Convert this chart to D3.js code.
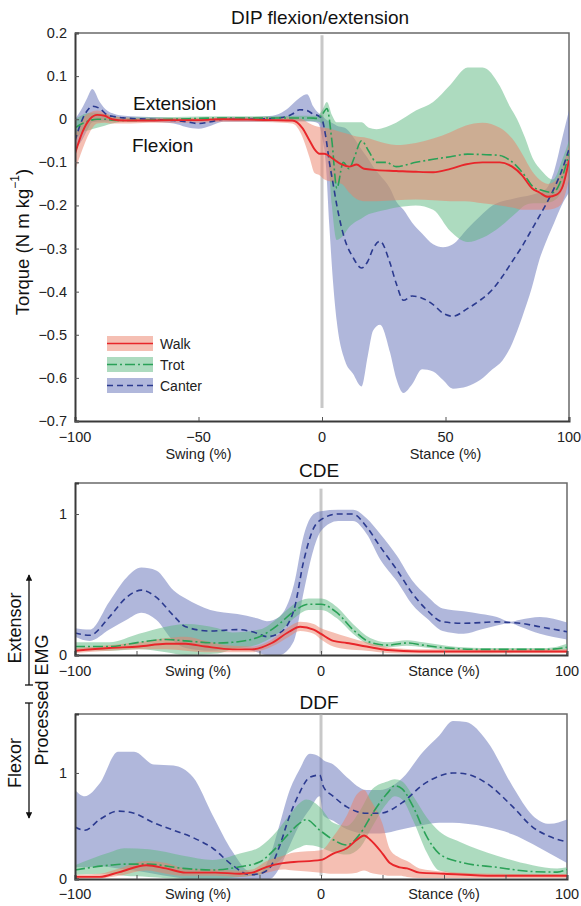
<!DOCTYPE html>
<html>
<head>
<meta charset="utf-8">
<script src="https://cdn.jsdelivr.net/npm/d3@7"></script>
<style>
  body { margin: 0; background: #fff; }
  svg { font-family: "Liberation Sans", Arial, sans-serif; }
</style>
</head>
<body>
<svg id="chart" width="581" height="906"></svg>
<script>
// ---- DIP flexion/extension torque (x = % of swing/stance) ----
var dipWalkX    = [-100, -97, -94, -91, -88, -85, -80, -70, -60, -50, -40, -30, -20, -12, -8, -5, -3, -1, 1, 4, 8, 11, 14, 17, 22, 30, 38, 45, 52, 58, 65, 72, 77, 81, 85, 88, 91.5, 95, 97.5, 100];
var dipWalkMean = [-0.08, -0.03, 0.0, 0.01, 0.008, 0.0, -0.003, -0.003, -0.002, -0.002, 0.0, -0.001, -0.002, -0.003, -0.02, -0.05, -0.07, -0.08, -0.08, -0.09, -0.105, -0.11, -0.105, -0.115, -0.118, -0.12, -0.122, -0.123, -0.115, -0.105, -0.1, -0.1, -0.11, -0.13, -0.16, -0.17, -0.18, -0.175, -0.155, -0.095];
var dipWalkLo   = [-0.12, -0.07, -0.03, -0.01, -0.008, -0.01, -0.01, -0.008, -0.008, -0.008, -0.006, -0.006, -0.007, -0.01, -0.04, -0.09, -0.125, -0.13, -0.14, -0.145, -0.15, -0.17, -0.185, -0.19, -0.19, -0.188, -0.186, -0.188, -0.19, -0.19, -0.195, -0.2, -0.205, -0.21, -0.21, -0.21, -0.21, -0.205, -0.19, -0.14];
var dipWalkHi   = [-0.04, 0.0, 0.015, 0.02, 0.015, 0.008, 0.004, 0.002, 0.003, 0.003, 0.004, 0.004, 0.004, 0.004, 0.0, -0.01, -0.015, -0.018, -0.02, -0.023, -0.03, -0.035, -0.04, -0.042, -0.05, -0.06, -0.055, -0.045, -0.03, -0.015, -0.008, -0.02, -0.045, -0.08, -0.12, -0.14, -0.15, -0.14, -0.11, -0.06];

var dipTrotX    = [-100, -97, -94, -91, -88, -85, -80, -60, -40, -20, -10, -5, -2, 0, 2, 4, 6, 8.6, 11, 13, 16, 19, 22, 26, 30, 38, 45, 52, 59, 65, 72, 76, 79, 82, 85.5, 89, 93.5, 97.5, 100];
var dipTrotMean = [-0.02, -0.01, -0.003, 0.0, 0.0, -0.002, -0.003, 0.0, 0.003, 0.003, 0.003, 0.003, 0.002, 0.01, 0.025, -0.05, -0.16, -0.1, -0.115, -0.09, -0.05, -0.075, -0.1, -0.1, -0.11, -0.1, -0.093, -0.087, -0.081, -0.082, -0.084, -0.095, -0.11, -0.13, -0.157, -0.165, -0.17, -0.13, -0.08];
var dipTrotLo   = [-0.05, -0.03, -0.025, -0.02, -0.015, -0.01, -0.006, -0.004, -0.002, -0.002, -0.003, -0.004, -0.005, -0.01, -0.05, -0.2, -0.28, -0.27, -0.25, -0.24, -0.23, -0.22, -0.215, -0.21, -0.205, -0.2, -0.21, -0.26, -0.285, -0.275, -0.25, -0.23, -0.215, -0.2, -0.195, -0.195, -0.19, -0.16, -0.11];
var dipTrotHi   = [0.0, 0.01, 0.015, 0.015, 0.012, 0.008, 0.004, 0.005, 0.007, 0.007, 0.008, 0.008, 0.008, 0.02, 0.04, 0.01, -0.007, -0.007, -0.007, -0.007, -0.007, -0.02, -0.023, -0.018, -0.008, 0.02, 0.04, 0.08, 0.12, 0.12, 0.077, 0.03, 0.0, -0.04, -0.093, -0.12, -0.14, -0.09, -0.05];

var dipCanterX    = [-100, -97, -95, -93, -90, -87, -84, -80, -70, -60, -55, -50, -45, -40, -30, -20, -15, -12, -9, -6, -3.6, -1.5, 0, 1.5, 3, 4.5, 6, 9.3, 12.5, 16, 18.5, 20.7, 23.5, 27.5, 30, 33, 36.5, 40.5, 45, 49, 53, 58.7, 64, 69, 73, 77, 81, 85, 88, 91, 94, 97, 100];
var dipCanterMean = [-0.05, 0.0, 0.02, 0.03, 0.025, 0.01, 0.006, 0.003, 0.0, -0.003, -0.006, -0.01, -0.006, 0.0, 0.0, 0.002, 0.005, 0.012, 0.022, 0.02, 0.012, 0.008, 0.0, -0.04, -0.1, -0.15, -0.2, -0.28, -0.32, -0.345, -0.33, -0.3, -0.283, -0.333, -0.38, -0.42, -0.41, -0.415, -0.43, -0.45, -0.457, -0.44, -0.42, -0.395, -0.365, -0.33, -0.295, -0.255, -0.225, -0.194, -0.16, -0.12, -0.07];
var dipCanterLo   = [-0.07, -0.047, -0.025, -0.007, -0.005, -0.005, -0.004, -0.004, -0.006, -0.01, -0.018, -0.022, -0.015, -0.006, -0.006, -0.005, -0.004, -0.005, -0.005, -0.005, -0.006, -0.01, -0.04, -0.1, -0.25, -0.38, -0.47, -0.56, -0.59, -0.62, -0.55, -0.49, -0.477, -0.54, -0.6, -0.635, -0.615, -0.58, -0.585, -0.605, -0.625, -0.62, -0.605, -0.58, -0.56, -0.52, -0.46, -0.39, -0.326, -0.28, -0.24, -0.2, -0.17];
var dipCanterHi   = [0.0, 0.027, 0.05, 0.07, 0.04, 0.02, 0.012, 0.008, 0.005, 0.003, 0.002, 0.0, 0.002, 0.005, 0.005, 0.008, 0.02, 0.035, 0.05, 0.058, 0.03, 0.015, 0.008, 0.0, -0.005, -0.01, -0.015, -0.02, -0.04, -0.07, -0.09, -0.11, -0.13, -0.16, -0.19, -0.21, -0.24, -0.265, -0.29, -0.297, -0.29, -0.255, -0.225, -0.2, -0.19, -0.185, -0.18, -0.175, -0.17, -0.16, -0.12, -0.05, 0.02];

// ---- CDE processed EMG ----
var cdeWalkX    = [-100, -86, -74, -63, -55, -47, -36, -28, -20, -13, -8.5, -3, 0, 5, 10.5, 18.5, 27, 40, 60, 80, 100];
var cdeWalkMean = [0.03, 0.05, 0.06, 0.08, 0.08, 0.06, 0.04, 0.04, 0.085, 0.165, 0.2, 0.18, 0.15, 0.1, 0.085, 0.06, 0.035, 0.025, 0.025, 0.025, 0.025];
var cdeWalkLo   = [0.015, 0.03, 0.04, 0.04, 0.03, 0.02, 0.02, 0.02, 0.06, 0.13, 0.17, 0.15, 0.11, 0.06, 0.04, 0.03, 0.015, 0.01, 0.01, 0.012, 0.015];
var cdeWalkHi   = [0.05, 0.07, 0.09, 0.12, 0.13, 0.1, 0.065, 0.06, 0.11, 0.2, 0.235, 0.22, 0.19, 0.16, 0.13, 0.09, 0.055, 0.04, 0.04, 0.04, 0.04];

var cdeTrotX    = [-100, -86, -74, -63, -55, -42, -36, -25, -17, -11, -5, 0, 6.5, 13, 20, 27, 35, 41.5, 51, 65, 80, 92, 100];
var cdeTrotMean = [0.06, 0.06, 0.09, 0.11, 0.1, 0.085, 0.09, 0.13, 0.22, 0.31, 0.36, 0.36, 0.3, 0.18, 0.09, 0.07, 0.085, 0.07, 0.05, 0.04, 0.04, 0.04, 0.055];
var cdeTrotLo   = [0.04, 0.03, 0.04, 0.02, 0.0, 0.01, 0.04, 0.08, 0.16, 0.26, 0.32, 0.32, 0.26, 0.15, 0.07, 0.055, 0.065, 0.055, 0.035, 0.03, 0.03, 0.03, 0.035];
var cdeTrotHi   = [0.09, 0.09, 0.15, 0.2, 0.22, 0.19, 0.16, 0.18, 0.27, 0.36, 0.4, 0.4, 0.34, 0.22, 0.12, 0.09, 0.105, 0.09, 0.065, 0.05, 0.05, 0.05, 0.08];

var cdeCanterX    = [-100, -94, -86, -79, -73, -67, -60, -55, -45, -34, -26, -22, -17, -11, -7, -3, 0, 7, 13, 18.5, 24, 31, 37, 43, 49.5, 58, 65, 71.5, 77, 81, 89, 100];
var cdeCanterMean = [0.156, 0.14, 0.27, 0.41, 0.46, 0.41, 0.28, 0.2, 0.17, 0.18, 0.155, 0.13, 0.155, 0.32, 0.67, 0.9, 0.96, 1.0, 1.0, 0.91, 0.77, 0.6, 0.44, 0.32, 0.235, 0.225, 0.23, 0.235, 0.23, 0.225, 0.2, 0.165];
var cdeCanterLo   = [0.13, 0.1, 0.18, 0.25, 0.3, 0.25, 0.1, 0.05, 0.03, 0.05, 0.02, 0.0, 0.0, 0.1, 0.45, 0.75, 0.88, 0.95, 0.95, 0.86, 0.68, 0.52, 0.36, 0.26, 0.17, 0.15, 0.18, 0.21, 0.225, 0.2, 0.15, 0.11];
var cdeCanterHi   = [0.19, 0.18, 0.38, 0.55, 0.62, 0.6, 0.46, 0.4, 0.32, 0.29, 0.26, 0.24, 0.27, 0.5, 0.85, 1.0, 1.02, 1.03, 1.03, 0.97, 0.86, 0.7, 0.53, 0.42, 0.33, 0.31, 0.29, 0.27, 0.235, 0.25, 0.27, 0.23];

// ---- DDF processed EMG ----
var ddfWalkX    = [-100, -90, -82, -71, -63, -55, -43, -33, -28, -22, -15.5, -11, 0, 5, 10.5, 14.6, 17.5, 20, 25, 28, 32, 35, 40, 50, 70, 100];
var ddfWalkMean = [0.02, 0.02, 0.065, 0.13, 0.1, 0.06, 0.06, 0.05, 0.06, 0.115, 0.15, 0.16, 0.18, 0.24, 0.29, 0.37, 0.41, 0.37, 0.24, 0.15, 0.11, 0.1, 0.06, 0.05, 0.03, 0.03];
var ddfWalkLo   = [0.0, 0.005, 0.03, 0.08, 0.05, 0.03, 0.03, 0.02, 0.03, 0.06, 0.09, 0.08, 0.06, 0.05, 0.05, 0.06, 0.08, 0.06, 0.04, 0.03, 0.03, 0.02, 0.01, 0.01, 0.01, 0.01];
var ddfWalkHi   = [0.04, 0.05, 0.1, 0.17, 0.15, 0.1, 0.09, 0.08, 0.09, 0.17, 0.22, 0.25, 0.27, 0.4, 0.6, 0.8, 0.84, 0.75, 0.52, 0.28, 0.2, 0.17, 0.1, 0.07, 0.05, 0.045];

var ddfTrotX    = [-100, -86, -80, -70, -56, -44, -33, -25, -18, -13, -8.5, -6, -0.5, 5, 10.5, 16, 21, 27, 30, 33, 37.5, 43, 48, 56.5, 71.5, 86, 96, 100];
var ddfTrotMean = [0.085, 0.13, 0.14, 0.14, 0.1, 0.085, 0.115, 0.16, 0.3, 0.43, 0.53, 0.56, 0.46, 0.37, 0.32, 0.43, 0.62, 0.81, 0.88, 0.85, 0.68, 0.4, 0.24, 0.16, 0.11, 0.07, 0.065, 0.09];
var ddfTrotLo   = [0.04, 0.05, 0.03, 0.02, 0.0, 0.0, 0.02, 0.04, 0.15, 0.25, 0.3, 0.32, 0.3, 0.25, 0.23, 0.3, 0.5, 0.72, 0.78, 0.75, 0.55, 0.25, 0.08, 0.05, 0.04, 0.035, 0.03, 0.03];
var ddfTrotHi   = [0.13, 0.25, 0.29, 0.28, 0.22, 0.18, 0.24, 0.3, 0.45, 0.6, 0.72, 0.75, 0.68, 0.53, 0.5, 0.65, 0.85, 0.92, 0.94, 0.92, 0.78, 0.58, 0.45, 0.35, 0.22, 0.13, 0.1, 0.11];

var ddfCanterX    = [-100, -96, -90, -82.5, -76, -68, -60, -52, -44, -36, -29, -25, -21, -17, -13, -9, -4.5, -0.5, 1, 5, 10.5, 18.5, 24, 33, 41.5, 48, 53.6, 59, 67.5, 78, 86, 93, 100];
var ddfCanterMean = [0.49, 0.46, 0.56, 0.64, 0.62, 0.53, 0.46, 0.39, 0.29, 0.13, 0.04, 0.05, 0.1, 0.3, 0.58, 0.8, 0.96, 0.98, 0.87, 0.78, 0.68, 0.62, 0.62, 0.72, 0.89, 0.97, 1.0, 0.99, 0.9, 0.68, 0.49, 0.4, 0.35];
var ddfCanterLo   = [0.11, 0.11, 0.12, 0.1, 0.08, 0.05, 0.02, 0.0, 0.0, 0.0, 0.0, 0.0, 0.0, 0.1, 0.3, 0.5, 0.66, 0.78, 0.6, 0.55, 0.47, 0.43, 0.43, 0.47, 0.51, 0.53, 0.53, 0.52, 0.49, 0.42, 0.33, 0.24, 0.15];
var ddfCanterHi   = [0.84, 0.78, 0.9, 1.2, 1.2, 1.08, 1.07, 0.96, 0.6, 0.26, 0.07, 0.06, 0.2, 0.5, 0.82, 1.02, 1.18, 1.15, 1.12, 1.08, 0.96, 0.84, 0.84, 0.95, 1.2, 1.35, 1.49, 1.48, 1.3, 0.87, 0.6, 0.52, 0.56];

var gaits = ["Walk", "Trot", "Canter"];
var dipTicks = [0.2, 0.1, 0, -0.1, -0.2, -0.3, -0.4, -0.5, -0.6, -0.7];
var emgTicks = [0, 1];

var style = {
  Walk:   { line: "#e8262a", band: "#eb7f68", dash: null },
  Trot:   { line: "#2aa157", band: "#5cb880", dash: "10,3,2,3" },
  Canter: { line: "#2b3a8f", band: "#6270b8", dash: "6,4" }
};

function series(x, mean, lo, hi) {
  return x.map(function (v, i) { return { x: v, m: mean[i], lo: lo[i], hi: hi[i] }; });
}

var svg = d3.select("#chart");
var minus = function (s) { return String(s).replace("-", "\u2212"); };
var fmtDip = function (d) { return d === 0 ? "0" : minus(d3.format(".1f")(d)); };
var fmtEmg = function (d) { return String(d); };

// panel layout
var panels = [
  { id: "dip", title: "DIP flexion/extension", titleY: 17, left: 75, right: 569, top: 33, bottom: 421,
    domain: [-0.7, 0.2], yTicks: dipTicks, fmt: fmtDip, xTicks: [-100, -50, 0, 50, 100], xLabels: [-100, -50, 0, 50, 100],
    tickLabY: 437, phaseY: 454, zeroLine: [0.195, -0.67],
    data: { Walk: series(dipWalkX, dipWalkMean, dipWalkLo, dipWalkHi),
            Trot: series(dipTrotX, dipTrotMean, dipTrotLo, dipTrotHi),
            Canter: series(dipCanterX, dipCanterMean, dipCanterLo, dipCanterHi) } },
  { id: "cde", title: "CDE", titleY: 470, left: 75, right: 567, top: 483, bottom: 655,
    domain: [0, 1.22], yTicks: emgTicks, fmt: fmtEmg, xTicks: [-100, -75, -50, -25, 0, 25, 50, 75, 100], xLabels: [-100, 0, 100],
    tickLabY: 671, phaseY: 671, zeroLine: [1.18, 0.01],
    data: { Walk: series(cdeWalkX, cdeWalkMean, cdeWalkLo, cdeWalkHi),
            Trot: series(cdeTrotX, cdeTrotMean, cdeTrotLo, cdeTrotHi),
            Canter: series(cdeCanterX, cdeCanterMean, cdeCanterLo, cdeCanterHi) } },
  { id: "ddf", title: "DDF", titleY: 702, left: 75, right: 567, top: 714, bottom: 879,
    domain: [0, 1.556], yTicks: emgTicks, fmt: fmtEmg, xTicks: [-100, -75, -50, -25, 0, 25, 50, 75, 100], xLabels: [-100, 0, 100],
    tickLabY: 894, phaseY: 894, zeroLine: [1.55, 0.03],
    data: { Walk: series(ddfWalkX, ddfWalkMean, ddfWalkLo, ddfWalkHi),
            Trot: series(ddfTrotX, ddfTrotMean, ddfTrotLo, ddfTrotHi),
            Canter: series(ddfCanterX, ddfCanterMean, ddfCanterLo, ddfCanterHi) } }
];

panels.forEach(function (p) {
  var x = d3.scaleLinear().domain([-100, 100]).range([p.left, p.right]);
  var y = d3.scaleLinear().domain(p.domain).range([p.bottom, p.top]);
  var g = svg.append("g");

  g.append("clipPath").attr("id", "clip-" + p.id)
    .append("rect").attr("x", p.left).attr("y", p.top)
    .attr("width", p.right - p.left).attr("height", p.bottom - p.top);

  // title
  g.append("text").attr("x", (p.left + p.right) / 2 - 2).attr("y", p.titleY)
    .attr("text-anchor", "middle").attr("dominant-baseline", "central")
    .attr("font-size", "19px").attr("fill", "#111").text(p.title);

  // frame: top / right lighter
  g.append("path")
    .attr("d", "M" + p.left + "," + p.top + "H" + p.right + "V" + p.bottom)
    .attr("fill", "none").attr("stroke", "#6a6a6a").attr("stroke-width", 1.5);

  var plot = g.append("g").attr("clip-path", "url(#clip-" + p.id + ")");

  // zero (touch-down) line
  plot.append("line")
    .attr("x1", x(0)).attr("x2", x(0))
    .attr("y1", y(p.zeroLine[0])).attr("y2", y(p.zeroLine[1]))
    .attr("stroke", "#c8c8c8").attr("stroke-width", 3);

  var area = d3.area().curve(d3.curveMonotoneX)
    .x(function (d) { return x(d.x); })
    .y0(function (d) { return y(d.lo); })
    .y1(function (d) { return y(d.hi); });
  var line = d3.line().curve(d3.curveMonotoneX)
    .x(function (d) { return x(d.x); })
    .y(function (d) { return y(d.m); });

  ["Canter", "Trot", "Walk"].forEach(function (k) {
    plot.append("path").datum(p.data[k]).attr("d", area)
      .attr("fill", style[k].band).attr("fill-opacity", 0.5);
  });
  ["Canter", "Trot", "Walk"].forEach(function (k) {
    plot.append("path").datum(p.data[k]).attr("d", line)
      .attr("fill", "none").attr("stroke", style[k].line)
      .attr("stroke-width", k === "Walk" ? 1.9 : 1.6)
      .attr("stroke-dasharray", style[k].dash);
  });

  // axes (left + bottom), ticks pointing inward
  var xAxis = d3.axisBottom(x).tickValues(p.xTicks).tickSize(-4).tickFormat("");
  var ax = g.append("g").attr("transform", "translate(0," + p.bottom + ")").call(xAxis);
  var yAxis = d3.axisLeft(y).tickValues(p.yTicks).tickSize(-4).tickFormat("");
  var ay = g.append("g").attr("transform", "translate(" + p.left + ",0)").call(yAxis);
  [ax, ay].forEach(function (a) {
    a.select(".domain").attr("stroke", "#3a3a3a").attr("stroke-width", 2);
    a.selectAll(".tick line").attr("stroke", "#555");
  });

  // tick labels
  g.selectAll(".ylab").data(p.yTicks).enter().append("text")
    .attr("x", p.left - 8).attr("y", function (d) { return y(d); })
    .attr("text-anchor", "end").attr("dominant-baseline", "central")
    .attr("font-size", "14.5px").attr("fill", "#222").text(p.fmt);

  g.selectAll(".xlab").data(p.xLabels).enter().append("text")
    .attr("x", function (d) { return x(d); }).attr("y", p.tickLabY)
    .attr("text-anchor", "middle").attr("dominant-baseline", "central")
    .attr("font-size", "14.5px").attr("fill", "#222")
    .text(minus);

  g.append("text").attr("x", x(-50)).attr("y", p.phaseY)
    .attr("text-anchor", "middle").attr("dominant-baseline", "central")
    .attr("font-size", "14.5px").attr("fill", "#222").text("Swing (%)");
  g.append("text").attr("x", x(50)).attr("y", p.phaseY)
    .attr("text-anchor", "middle").attr("dominant-baseline", "central")
    .attr("font-size", "14.5px").attr("fill", "#222").text("Stance (%)");
});

// ---- top panel annotations ----
svg.append("text").attr("x", 133).attr("y", 103).attr("dominant-baseline", "central")
  .attr("font-size", "19px").attr("fill", "#111").text("Extension");
svg.append("text").attr("x", 132).attr("y", 145).attr("dominant-baseline", "central")
  .attr("font-size", "19px").attr("fill", "#111").text("Flexion");

var yl = svg.append("text").attr("transform", "translate(22,242) rotate(-90)")
  .attr("text-anchor", "middle").attr("dominant-baseline", "central")
  .attr("font-size", "18.5px").attr("fill", "#111");
yl.append("tspan").text("Torque (N m kg");
yl.append("tspan").attr("font-size", "12px").attr("dy", -7).text("\u22121");
yl.append("tspan").attr("dy", 7).text(")");

// legend
var leg = svg.append("g");
gaits.forEach(function (k, i) {
  var cy = 343.5 + i * 21;
  leg.append("rect").attr("x", 107).attr("y", cy - 7.5).attr("width", 46).attr("height", 15)
    .attr("fill", style[k].band).attr("fill-opacity", 0.5);
  leg.append("line").attr("x1", 107).attr("x2", 153).attr("y1", cy).attr("y2", cy)
    .attr("stroke", style[k].line).attr("stroke-width", 1.5)
    .attr("stroke-dasharray", style[k].dash);
  leg.append("text").attr("x", 160).attr("y", cy).attr("dominant-baseline", "central")
    .attr("font-size", "14px").attr("fill", "#222").text(k);
});

// ---- EMG side labels ----
function vtext(txt, cx, cy) {
  svg.append("text").attr("transform", "translate(" + cx + "," + cy + ") rotate(-90)")
    .attr("text-anchor", "middle").attr("dominant-baseline", "central")
    .attr("font-size", "18px").attr("fill", "#111").text(txt);
}
vtext("Extensor", 15, 628);
vtext("Flexor", 15, 763);
vtext("Processed EMG", 42, 700);

svg.append("defs").append("marker").attr("id", "arr")
  .attr("viewBox", "0 0 10 10").attr("refX", 9).attr("refY", 5)
  .attr("markerWidth", 5).attr("markerHeight", 5).attr("orient", "auto")
  .append("path").attr("d", "M0,0L10,5L0,10Z").attr("fill", "#111");

svg.append("line").attr("x1", 29).attr("x2", 29).attr("y1", 685).attr("y2", 575)
  .attr("stroke", "#111").attr("stroke-width", 1.3).attr("marker-end", "url(#arr)");
svg.append("line").attr("x1", 25).attr("x2", 33).attr("y1", 685).attr("y2", 685)
  .attr("stroke", "#111").attr("stroke-width", 1.3);
svg.append("line").attr("x1", 29).attr("x2", 29).attr("y1", 703).attr("y2", 818)
  .attr("stroke", "#111").attr("stroke-width", 1.3).attr("marker-end", "url(#arr)");
svg.append("line").attr("x1", 25).attr("x2", 33).attr("y1", 703).attr("y2", 703)
  .attr("stroke", "#111").attr("stroke-width", 1.3);
</script>
</body>
</html>
